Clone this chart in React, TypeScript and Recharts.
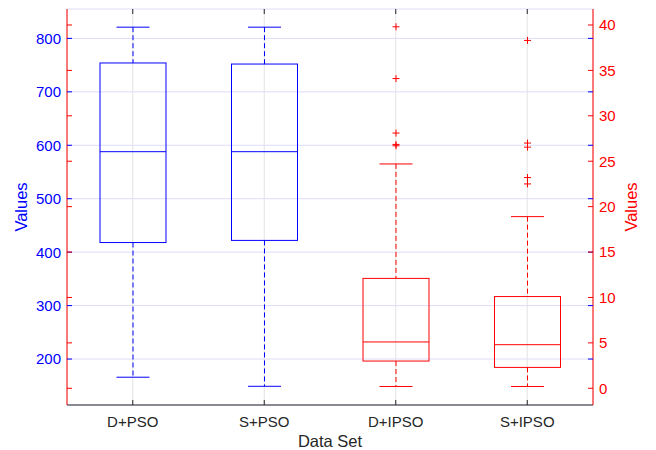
import { Bar, CartesianGrid, ComposedChart, XAxis, YAxis } from 'recharts'

// box statistics per data set (left axis for PSO, right axis for IPSO)
const CATEGORIES = ['D+PSO', 'S+PSO', 'D+IPSO', 'S+IPSO']
const SIDE = ['left', 'left', 'right', 'right']
const LOWER_WHISKER = [166, 149, 0.2, 0.2]
const Q1 = [418, 422, 3.0, 2.3]
const MEDIAN = [588, 588, 5.1, 4.8]
const Q3 = [754, 752, 12.1, 10.1]
const UPPER_WHISKER = [821, 821, 24.7, 18.9]
const OUTLIERS = [[], [], [39.8, 34.1, 28.1, 26.85, 26.7], [38.3, 27.0, 26.55, 23.2, 22.5]]

const LEFT_TICKS = [200, 300, 400, 500, 600, 700, 800]
const RIGHT_TICKS = [0, 5, 10, 15, 20, 25, 30, 35, 40]
const LEFT_DOMAIN = [114, 855]
const RIGHT_DOMAIN = [-1.84, 41.76]

const W = 656
const H = 450
const PLOT_LEFT = 67
const PLOT_RIGHT = 593
const PLOT_TOP = 9
const PLOT_BOTTOM = 405
const PLOT_MID_Y = (PLOT_TOP + PLOT_BOTTOM) / 2
const TICK_LEN = 5

const BLUE = '#0000ff'
const RED = '#ff0000'
const DARK = '#262626'
const FONT = '"Liberation Sans", Arial, Helvetica, sans-serif'

const rows = CATEGORIES.map((name, i) => ({
  name,
  side: SIDE[i],
  lo: LOWER_WHISKER[i],
  q1: Q1[i],
  med: MEDIAN[i],
  q3: Q3[i],
  hi: UPPER_WHISKER[i],
  out: OUTLIERS[i],
  leftRange: SIDE[i] === 'left' ? [LOWER_WHISKER[i], UPPER_WHISKER[i]] : null,
  rightRange: SIDE[i] === 'right' ? [LOWER_WHISKER[i], UPPER_WHISKER[i]] : null,
}))

// the bar spans whisker to whisker; everything else is placed on the same linear scale
function BoxShape(props: any) {
  const { x, y, width, height, payload, side, color } = props
  if (!payload || payload.side !== side || !(height > 0)) return <g />
  const { lo, q1, med, q3, hi, out } = payload
  const py = (v: number) => y + (height * (hi - v)) / (hi - lo)
  const cx = x + width / 2
  const cap = width / 4
  return (
    <g fill="none" stroke={color} strokeWidth={1}>
      <line x1={cx} x2={cx} y1={py(hi)} y2={py(q3)} strokeDasharray="5 3" />
      <line x1={cx} x2={cx} y1={py(q1)} y2={py(lo)} strokeDasharray="5 3" />
      <line x1={cx - cap} x2={cx + cap} y1={py(hi)} y2={py(hi)} />
      <line x1={cx - cap} x2={cx + cap} y1={py(lo)} y2={py(lo)} />
      <rect x={x} y={py(q3)} width={width} height={py(q1) - py(q3)} />
      <line x1={x} x2={x + width} y1={py(med)} y2={py(med)} />
      {out.map((v: number, k: number) => (
        <g key={k}>
          <line x1={cx - 3.5} x2={cx + 3.5} y1={py(v)} y2={py(v)} />
          <line x1={cx} x2={cx} y1={py(v) - 3.5} y2={py(v) + 3.5} />
        </g>
      ))}
    </g>
  )
}

function LeftTick({ y, payload }: any) {
  return (
    <g>
      <line x1={PLOT_LEFT} x2={PLOT_LEFT + TICK_LEN} y1={y} y2={y} stroke={BLUE} />
      <line x1={PLOT_RIGHT - TICK_LEN} x2={PLOT_RIGHT} y1={y} y2={y} stroke={BLUE} />
      <text x={PLOT_LEFT - 6} y={y} dy="0.36em" textAnchor="end" fill={BLUE} fontSize={15} fontFamily={FONT}>
        {payload.value}
      </text>
    </g>
  )
}

function RightTick({ y, payload }: any) {
  return (
    <g>
      <line x1={PLOT_RIGHT - TICK_LEN} x2={PLOT_RIGHT} y1={y} y2={y} stroke={RED} />
      <line x1={PLOT_LEFT} x2={PLOT_LEFT + TICK_LEN} y1={y} y2={y} stroke={RED} />
      <text x={PLOT_RIGHT + 6} y={y} dy="0.36em" textAnchor="start" fill={RED} fontSize={15} fontFamily={FONT}>
        {payload.value}
      </text>
    </g>
  )
}

function CategoryTick({ x, payload }: any) {
  return (
    <g>
      <line x1={x} x2={x} y1={PLOT_BOTTOM} y2={PLOT_BOTTOM - TICK_LEN} stroke={DARK} />
      <line x1={x} x2={x} y1={PLOT_TOP} y2={PLOT_TOP + TICK_LEN} stroke={DARK} />
      <text x={x} y={427} textAnchor="middle" fill={DARK} fontSize={15} fontFamily={FONT}>
        {payload.value}
      </text>
    </g>
  )
}

export default function App() {
  return (
    <div style={{ position: 'absolute', left: 0, top: 0, background: '#fff' }}>
      <ComposedChart
        width={W}
        height={H}
        data={rows}
        margin={{ top: PLOT_TOP, right: 0, bottom: 0, left: 0 }}
      >
        <CartesianGrid xAxisId="main" yAxisId="left" vertical={false} stroke="#dcdcfa" />
        <CartesianGrid xAxisId="main" yAxisId="left" horizontal={false} stroke="#e3e3e3" />
        <XAxis
          xAxisId="main"
          dataKey="name"
          type="category"
          height={H - PLOT_BOTTOM}
          axisLine={{ stroke: DARK }}
          tickLine={false}
          tick={<CategoryTick />}
          interval={0}
          label={{
            content: () => (
              <text
                x={(PLOT_LEFT + PLOT_RIGHT) / 2}
                y={447}
                textAnchor="middle"
                fill={DARK}
                fontSize={16.5}
                fontFamily={FONT}
              >
                Data Set
              </text>
            ),
          }}
        />
        <XAxis
          xAxisId="alt"
          dataKey="name"
          type="category"
          orientation="top"
          height={0}
          axisLine={{ stroke: DARK }}
          tickLine={false}
          tick={false}
        />
        <YAxis
          yAxisId="left"
          orientation="left"
          width={PLOT_LEFT}
          domain={LEFT_DOMAIN}
          allowDataOverflow
          ticks={LEFT_TICKS}
          interval={0}
          axisLine={{ stroke: RED }}
          tickLine={false}
          tick={<LeftTick />}
          label={{
            content: () => (
              <text
                transform={`translate(27, ${PLOT_MID_Y}) rotate(-90)`}
                textAnchor="middle"
                fill={BLUE}
                fontSize={16.5}
                fontFamily={FONT}
              >
                Values
              </text>
            ),
          }}
        />
        <YAxis
          yAxisId="right"
          orientation="right"
          width={W - PLOT_RIGHT}
          domain={RIGHT_DOMAIN}
          allowDataOverflow
          ticks={RIGHT_TICKS}
          interval={0}
          axisLine={{ stroke: RED }}
          tickLine={false}
          tick={<RightTick />}
          label={{
            content: () => (
              <text
                transform={`translate(636.5, ${PLOT_MID_Y}) rotate(-90)`}
                textAnchor="middle"
                fill={RED}
                fontSize={16.5}
                fontFamily={FONT}
              >
                Values
              </text>
            ),
          }}
        />
        <Bar
          xAxisId="main"
          yAxisId="left"
          dataKey="leftRange"
          barSize={66}
          isAnimationActive={false}
          shape={(p: any) => <BoxShape {...p} side="left" color={BLUE} />}
        />
        <Bar
          xAxisId="alt"
          yAxisId="right"
          dataKey="rightRange"
          barSize={66}
          isAnimationActive={false}
          shape={(p: any) => <BoxShape {...p} side="right" color={RED} />}
        />
      </ComposedChart>
    </div>
  )
}
